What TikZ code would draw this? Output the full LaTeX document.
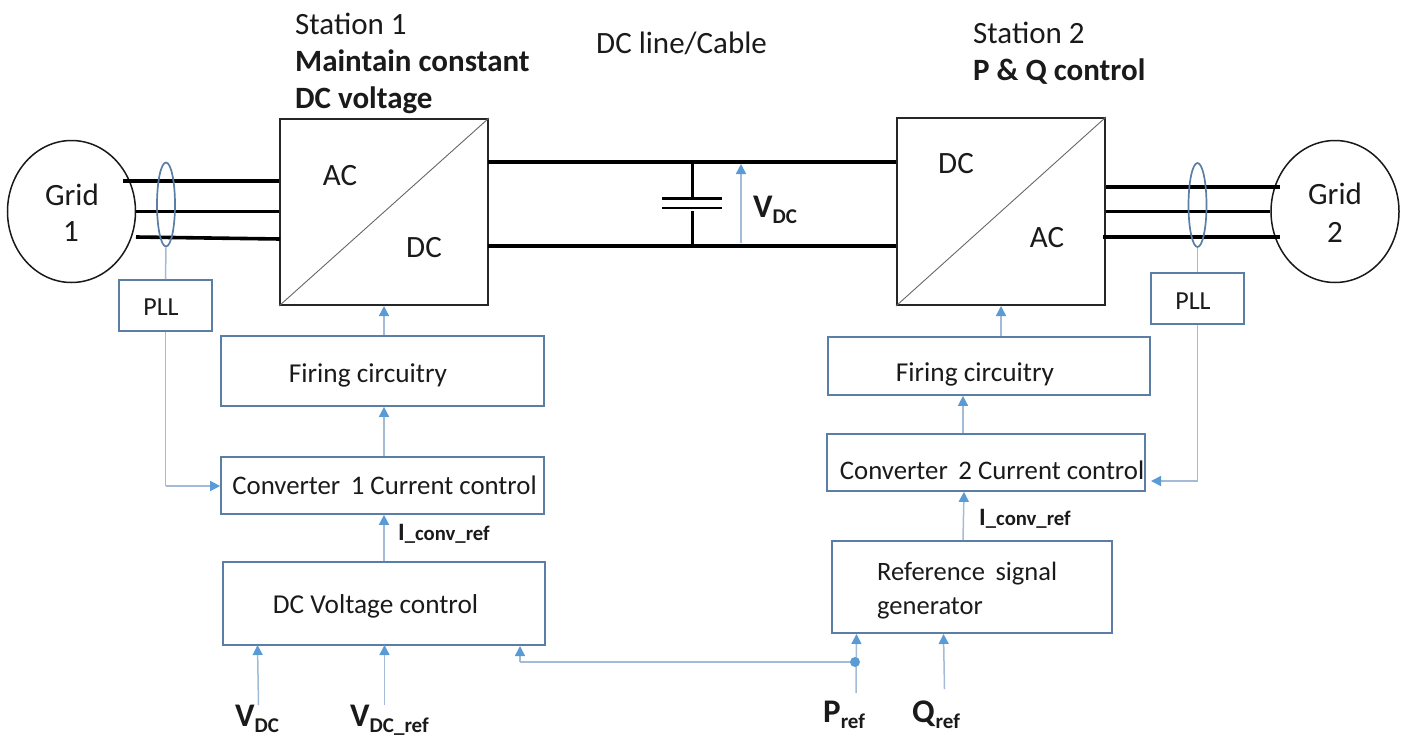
\documentclass[tikz,border=0pt]{standalone}
\usepackage{fontspec}
\setmainfont{Carlito}
\usetikzlibrary{arrows.meta,shapes.geometric}
\definecolor{boxc}{HTML}{5A7EA6}
\definecolor{linec}{HTML}{A3BBD6}
\definecolor{tipc}{HTML}{5B9BD5}
\definecolor{txt}{HTML}{1A1A1A}
\newcommand{\fs}[1]{\fontsize{#1}{#1}\selectfont}
\newcommand{\lbl}[2]{\textbf{#1}{\fontsize{21}{21}\selectfont\raisebox{-6.5pt}{\textbf{#2}}}}
\tikzset{
  x=1pt,y=-1pt,
  box/.style={draw=boxc,line width=1.7pt,inner sep=0pt,rectangle},
  convbox/.style={draw=black!85,line width=2pt,inner sep=0pt,rectangle},
  gridc/.style={draw=black!90,line width=1.5pt,inner sep=0pt,ellipse,minimum width=128pt,minimum height=142pt,align=center},
  sensor/.style={draw=boxc,line width=1.7pt,inner sep=0pt,ellipse,minimum width=18pt,minimum height=84pt},
  phase/.style={draw=black,line width=3.6pt},
  capl/.style={draw=black,line width=2.6pt},
  wire/.style={draw=linec,line width=1.5pt},
  conn/.style={wire,-{Triangle[length=10pt,width=10pt,fill=tipc,color=tipc]}},
  t/.style={inner sep=0pt,text=txt,font=\fs{27.3}},
  h/.style={inner sep=0pt,text=txt,font=\fs{31},anchor=base west},
  s/.style={inner sep=0pt,text=txt,font=\fs{31},anchor=base west},
  v/.style={inner sep=0pt,text=txt,font=\fs{33},anchor=base west}
}
\begin{document}
\begin{tikzpicture}
\useasboundingbox (0,0) rectangle (1408,736);
% converters
\node[convbox,minimum width=208pt,minimum height=186pt] (st1) at (384,212) {};
\node[convbox,minimum width=208pt,minimum height=187pt] (st2) at (1001,211.5) {};
\draw[black!60,line width=.9pt] (st1.south west) -- (st1.north east);
\draw[black!60,line width=.9pt] (st2.south west) -- (st2.north east);
% grids
\node[gridc] (g1) at (71.5,211.5) {};
\node[gridc] (g2) at (1335,211.5) {};
\node[t,font=\fs{31}] (g1a) at (72,195) {Grid};
\node[t,font=\fs{31}] (g1b) at (71,232) {1};
\node[t,font=\fs{31}] (g2a) at (1335,194) {Grid};
\node[t,font=\fs{31}] (g2b) at (1335,232) {2};
% three-phase lines
\coordinate (a1) at (123,181);
\coordinate (a3) at (136,237);
\coordinate (a3e) at (280,239);
\draw[phase] (a1) -- (a1 -| st1.west);
\draw[phase] (g1.east) -- (g1.east -| st1.west);
\draw[phase] (a3) -- (a3e);
\coordinate (b1) at (1280,187);
\coordinate (b3) at (1280,237);
\coordinate (b3e) at (1103,237);
\draw[phase] (b1 -| st2.east) -- (b1);
\draw[phase] (g2.west) -- (g2.west -| st2.east);
\draw[phase] (b3) -- (b3e);
% DC link
\coordinate (dc1) at (488,162);
\coordinate (dc2) at (488,246);
\draw[phase] (dc1) -- (dc1 -| st2.west);
\draw[phase] (dc2) -- (dc2 -| st2.west);
% capacitor
\coordinate (ct) at (692.5,162);
\coordinate (cb) at (692.5,246);
\coordinate (c1) at (692.5,198.5);
\coordinate (c2) at (692.5,211);
\coordinate (p1l) at (662,198.5);
\coordinate (p1r) at (722,198.5);
\coordinate (p2l) at (662,208);
\coordinate (p2r) at (722,208);
\draw[capl] (ct) -- (c1);
\draw[capl] (c2) -- (cb);
\draw[capl] (p1l) -- (p1r);
\draw[capl] (p2l) -- (p2r);
\coordinate (vb) at (741,243);
\coordinate (vt) at (741,164);
\draw[conn] (vb) -- (vt);
\node[v] (vdc) at (753,217) {\lbl{V}{DC}};
% sensors
\node[sensor] (e1) at (166,204.5) {};
\node[sensor] (e2) at (1197.5,205) {};
% PLL
\node[box,minimum width=93pt,minimum height=51pt] (pll1) at (165.5,305.5) {};
\node[box,minimum width=93pt,minimum height=51pt] (pll2) at (1197.5,298.5) {};
\node[t,font=\fs{26}] (pll1t) at (161,307) {PLL};
\node[t,font=\fs{26}] (pll2t) at (1193,301) {PLL};
\draw[wire] (e1.south) -- (pll1.north);
\draw[wire] (e2.south) -- (pll2.north);
% left chain
\node[box,minimum width=323pt,minimum height=70pt] (fire1) at (382.5,371) {};
\node[box,minimum width=323pt,minimum height=57pt] (cc1) at (382.5,485.5) {};
\node[box,minimum width=322pt,minimum height=83pt] (dcv) at (384,603.5) {};
\node[t] (fire1t) at (368,375) {Firing circuitry};
\node[t,font=\fs{26.8}] (cc1t) at (384.5,485) {Converter\, 1 Current control};
\node[t] (dcvt) at (375.5,606) {DC Voltage control};
% right chain
\node[box,minimum width=322pt,minimum height=58pt] (fire2) at (989,366) {};
\node[box,minimum width=318pt,minimum height=57pt] (cc2) at (986,462.5) {};
\node[box,minimum width=280pt,minimum height=92pt] (ref) at (972,587) {};
\node[t] (fire2t) at (975,374) {Firing circuitry};
\node[t,font=\fs{26.8}] (cc2t) at (992,470) {Converter\, 2 Current control};
\node[t,font=\fs{26.5},align=left,anchor=north west] (reft) at (877,562) {Reference\, signal\\[7pt]generator};
% control connectors
\draw[conn] ([xshift=1.5pt]fire1.north) -- (st1.south);
\draw[conn] ([xshift=1.5pt]cc1.north) -- ([xshift=1.5pt]fire1.south);
\draw[conn] (dcv.north) -- ([xshift=1.5pt]cc1.south);
\draw[conn] ([xshift=12pt]fire2.north) -- (st2.south);
\draw[conn] ([xshift=-23pt]cc2.north) -- ([xshift=-26pt]fire2.south);
\draw[conn] ([xshift=-9pt]ref.north) -- ([xshift=-22pt]cc2.south);
\coordinate (p1c) at (165.5,486);
\coordinate (p2c) at (1197.5,481);
\coordinate (p2e) at (1151,481);
\draw[wire] (pll1.south) -- (p1c);
\draw[conn] (p1c) -- (cc1.west |- p1c);
\draw[wire] (pll2.south) -- (p2c);
\draw[conn] (p2c) -- (p2e);
% inputs
\coordinate (vdcs) at (258.5,705);
\coordinate (vdce) at (257.5,645);
\coordinate (vrs) at (384.5,705);
\coordinate (vre) at (384.5,645);
\coordinate (ps) at (856,693);
\coordinate (pe) at (856.5,634);
\coordinate (qs) at (944.5,689);
\coordinate (qe) at (943.5,634);
\draw[conn] (vdcs) -- (vdce);
\draw[conn] (vrs) -- (vre);
\draw[conn] (ps) -- (pe);
\draw[conn] (qs) -- (qe);
\coordinate (junc) at (855,662);
\coordinate (jl) at (520,662);
\coordinate (jt) at (520,646);
\draw[wire] (junc) -- (jl);
\draw[conn] (jl) -- (jt);
\fill[tipc] (junc) circle (5pt);
% labels
\node[h] (st1t) at (295,34) {Station 1};
\node[s] (st1m) at (295,71) {\textbf{Maintain constant}};
\node[s] (st1d) at (295,108) {\textbf{DC voltage}};
\node[h] (dcl) at (596,53) {DC line/Cable};
\node[h] (st2t) at (973,43) {Station 2};
\node[s] (st2m) at (973,80) {\textbf{P \& Q control}};
\node[t,font=\fs{31}] (ac1) at (340,176) {AC};
\node[t,font=\fs{31}] (dc1t) at (424,248) {DC};
\node[t,font=\fs{31}] (dc2t) at (956,164) {DC};
\node[t,font=\fs{31}] (ac2) at (1047,238) {AC};
\node[s,font=\fs{25}] (i1) at (398,540) {\textbf{I}\textbf{\fontsize{20.7}{20.7}\selectfont\_conv\_ref}};
\node[s,font=\fs{25}] (i2) at (979,525) {\textbf{I}\textbf{\fontsize{20.7}{20.7}\selectfont\_conv\_ref}};
\node[v] (l1) at (235,726) {\lbl{V}{DC}};
\node[v] (l2) at (350,726) {\lbl{V}{DC\_ref}};
\node[v] (l3) at (823,722) {\lbl{P}{ref}};
\node[v] (l4) at (912,722) {\lbl{Q}{ref}};
\end{tikzpicture}
\end{document}
